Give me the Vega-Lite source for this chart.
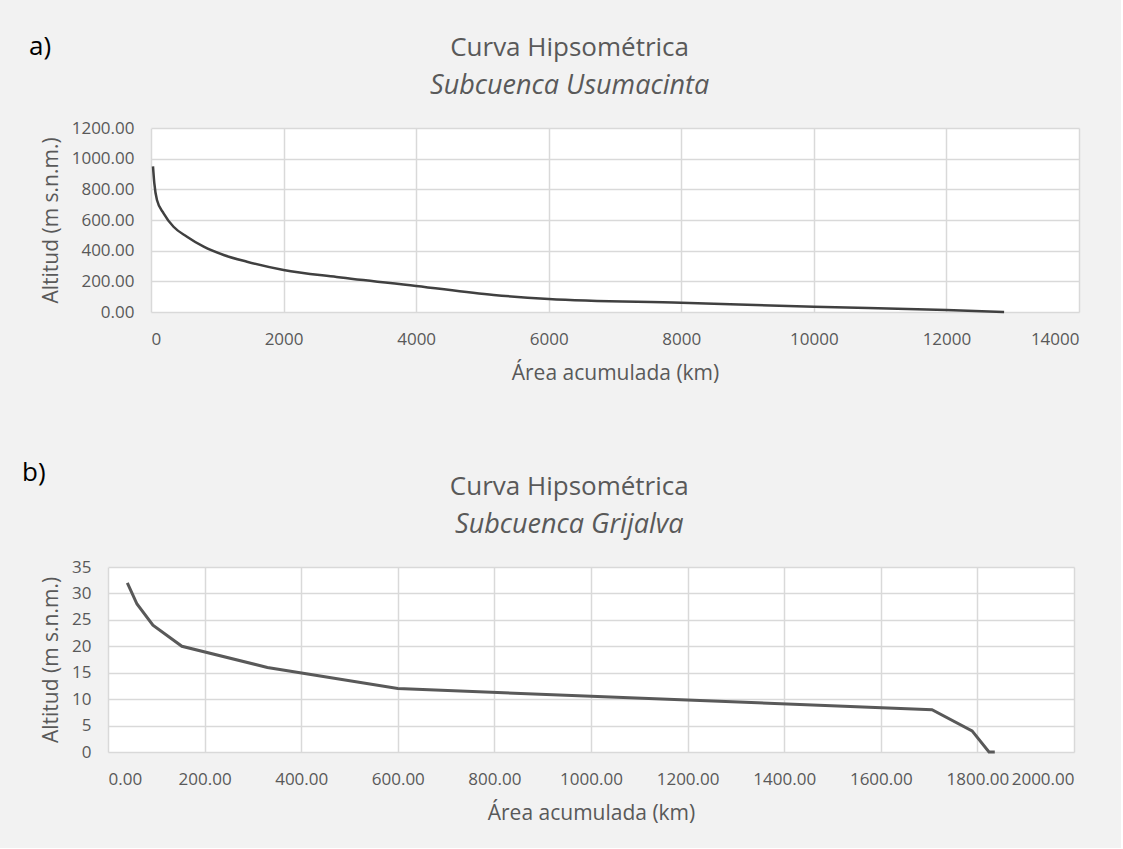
{
  "$schema": "https://vega.github.io/schema/vega-lite/v6.json",
  "background": "#f2f2f2",
  "padding": {"left": 22, "top": 34, "right": 42, "bottom": 25},
  "config": {
    "font": "Open Sans",
    "view": {"fill": "#ffffff", "stroke": null},
    "axis": {"labelColor": "#595959", "titleColor": "#595959", "labelFontSize": 17, "titleFontSize": 21, "titleFontWeight": "normal", "gridColor": "#d9d9d9", "gridWidth": 1.5, "domain": false, "ticks": false, "labelPadding": 17},
    "axisX": {"titlePadding": 15, "labelPadding": 19},
    "axisY": {"titlePadding": 10},
    "title": {"color": "#595959", "fontWeight": "normal", "fontSize": 26, "subtitleColor": "#595959", "subtitleFontSize": 27, "subtitleFontStyle": "italic", "subtitleFont": "Open Sans", "subtitlePadding": 12}
  },
  "datasets": {
    "usu": [
      {"area": 30, "alt": 950}, {"area": 50, "alt": 840}, {"area": 90, "alt": 730}, {"area": 190, "alt": 644},
      {"area": 340, "alt": 556}, {"area": 543, "alt": 491}, {"area": 795, "alt": 426}, {"area": 1096, "alt": 372},
      {"area": 1448, "alt": 328}, {"area": 2000, "alt": 274}, {"area": 2800, "alt": 228}, {"area": 4000, "alt": 170},
      {"area": 5170, "alt": 111}, {"area": 6000, "alt": 85}, {"area": 8000, "alt": 60}, {"area": 10000, "alt": 35},
      {"area": 12000, "alt": 13}, {"area": 12870, "alt": 0}
    ],
    "gri": [
      {"area": 40, "alt": 32}, {"area": 60, "alt": 28}, {"area": 93, "alt": 24}, {"area": 153, "alt": 20},
      {"area": 330, "alt": 16}, {"area": 600, "alt": 12}, {"area": 1706, "alt": 8}, {"area": 1789, "alt": 4},
      {"area": 1824, "alt": 0}, {"area": 1836, "alt": 0}
    ],
    "none": []
  },
  "columns": 1,
  "align": "none",
  "spacing": 77,
  "concat": [
    {
      "title": {"text": "a)", "anchor": "start", "frame": "bounds", "fontSize": 26, "color": "#000000", "offset": -25, "dx": -10},
      "spacing": 0,
      "hconcat": [
        {
          "width": 1, "height": 1,
          "view": {"fill": null, "stroke": null},
          "data": {"name": "none"},
          "mark": "point",
          "encoding": {}
        },
        {
          "title": {"text": "Curva Hipsométrica", "subtitle": "Subcuenca Usumacinta", "anchor": "middle", "frame": "bounds", "offset": 20, "dx": 10},
          "width": 928,
          "height": 184,
          "data": {"name": "usu"},
          "mark": {"type": "line", "color": "#404040", "strokeWidth": 2.5, "interpolate": "monotone"},
          "encoding": {
            "x": {"field": "area", "type": "quantitative", "scale": {"domain": [0, 14000], "nice": false},
                  "axis": {"values": [0, 2000, 4000, 6000, 8000, 10000, 12000, 14000], "format": "d", "title": "Área acumulada (km)"}},
            "y": {"field": "alt", "type": "quantitative", "scale": {"domain": [0, 1200], "nice": false},
                  "axis": {"values": [0, 200, 400, 600, 800, 1000, 1200], "format": ".2f", "title": "Altitud (m s.n.m.)"}}
          }
        }
      ]
    },
    {
      "title": {"text": "b)", "anchor": "start", "frame": "bounds", "fontSize": 26, "color": "#000000", "offset": -12, "dx": -17},
      "spacing": 0,
      "hconcat": [
        {
          "width": 1, "height": 1,
          "view": {"fill": null, "stroke": null},
          "data": {"name": "none"},
          "mark": "point",
          "encoding": {}
        },
        {
          "title": {"text": "Curva Hipsométrica", "subtitle": "Subcuenca Grijalva", "anchor": "middle", "frame": "bounds", "offset": 20, "dx": 12},
          "width": 966,
          "height": 185,
          "data": {"name": "gri"},
          "mark": {"type": "line", "color": "#595959", "strokeWidth": 3},
          "encoding": {
            "x": {"field": "area", "type": "quantitative", "scale": {"domain": [0, 2000], "nice": false},
                  "axis": {"values": [0, 200, 400, 600, 800, 1000, 1200, 1400, 1600, 1800, 2000], "format": ".2f", "title": "Área acumulada (km)"}},
            "y": {"field": "alt", "type": "quantitative", "scale": {"domain": [0, 35], "nice": false},
                  "axis": {"values": [0, 5, 10, 15, 20, 25, 30, 35], "format": "d", "title": "Altitud (m s.n.m.)"}}
          }
        }
      ]
    }
  ]
}
